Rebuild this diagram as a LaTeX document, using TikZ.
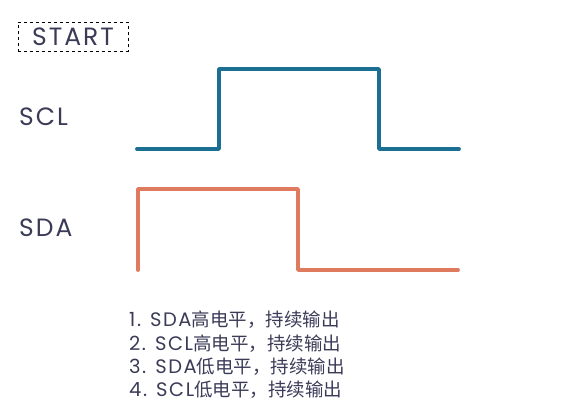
\documentclass[tikz,border=0pt]{standalone}
\usepackage{fontspec}
\setmainfont{Poppins}[LetterSpace=8]
\newfontfamily\cjk{Noto Sans CJK SC}
\definecolor{sclc}{HTML}{1A6F93}
\definecolor{sdac}{HTML}{E07A5F}
\definecolor{txt}{HTML}{3B3B58}
\newcommand{\zh}[1]{{\cjk\fontsize{18.5}{23.4}\selectfont #1}}
\begin{document}
\begin{tikzpicture}[x=1pt,y=-1pt,
  wave/.style={line width=3.8pt,line cap=round,line join=round},
  lbl/.style={text=txt,font=\fontsize{25}{28}\selectfont,inner sep=0pt,anchor=west}]
\useasboundingbox (0,0) rectangle (563,412);
\node[draw=black,dashed,line width=0.7pt,minimum width=110pt,minimum height=29pt,inner sep=0pt,text=txt,font=\fontsize{25}{26}\selectfont] (start) at (73,37) {START};
\node[lbl] (scl) at (19,117) {SCL};
\node[lbl] (sda) at (19,228) {SDA};
\draw[wave,sclc] (137,149) -- (219,149) -- (219,69) -- (379,69) -- (379,149) -- (459,149);
\draw[wave,sdac] (138,270) -- (138,189) -- (298,189) -- (298,270) -- (458,270);
\node[anchor=north west,align=left,inner sep=0pt,text=txt,font=\fontsize{19.5}{23.4}\selectfont] (notes) at (129,311) {1. SDA\zh{高电平，持续输出}\\2. SCL\zh{高电平，持续输出}\\3. SDA\zh{低电平，持续输出}\\4. SCL\zh{低电平，持续输出}};
\end{tikzpicture}
\end{document}
